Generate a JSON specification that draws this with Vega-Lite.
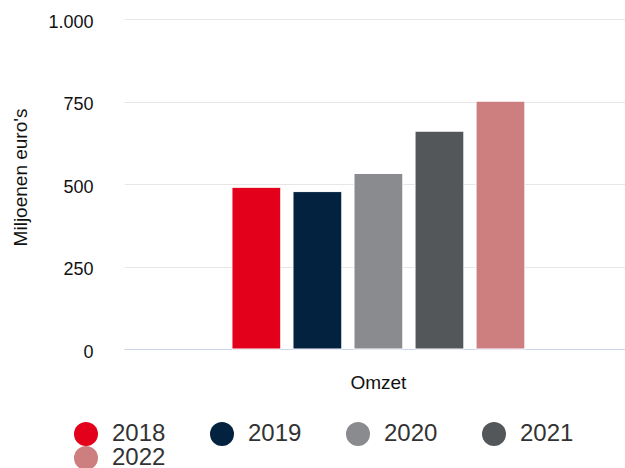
{
  "$schema": "https://vega.github.io/schema/vega-lite/v6.json",
  "autosize": "none",
  "width": 501,
  "height": 330,
  "padding": {"left": 124, "top": 19, "right": 0, "bottom": 119},
  "background": "white",
  "config": {
    "font": "Liberation Sans",
    "view": {"stroke": null}
  },
  "data": {
    "values": [
      {"categorie": "Omzet", "jaar": "2018", "waarde": 490},
      {"categorie": "Omzet", "jaar": "2019", "waarde": 477},
      {"categorie": "Omzet", "jaar": "2020", "waarde": 532},
      {"categorie": "Omzet", "jaar": "2021", "waarde": 660},
      {"categorie": "Omzet", "jaar": "2022", "waarde": 751}
    ]
  },
  "mark": {"type": "bar", "stroke": "white", "strokeWidth": 1},
  "encoding": {
    "x": {
      "field": "categorie",
      "type": "nominal",
      "scale": {"paddingInner": 0, "paddingOuter": 0.321, "align": 0.52},
      "axis": {
        "title": null,
        "labelAngle": 0,
        "labelFontSize": 19,
        "labelColor": "#111111",
        "labelPadding": 24,
        "ticks": false,
        "domainColor": "#ccd6eb",
        "domainWidth": 1,
        "grid": false
      }
    },
    "xOffset": {
      "field": "jaar",
      "type": "nominal",
      "scale": {"paddingInner": 0.2, "paddingOuter": 0.1}
    },
    "y": {
      "field": "waarde",
      "type": "quantitative",
      "scale": {"domain": [0, 1000], "nice": false},
      "axis": {
        "title": "Miljoenen euro's",
        "titleFontSize": 19,
        "titleFontWeight": "normal",
        "titleColor": "#111111",
        "titleAngle": -90,
        "titleX": -104,
        "titleY": 158,
        "titleAlign": "center",
        "titleBaseline": "middle",
        "values": [0, 250, 500, 750, 1000],
        "labelExpr": "replace(format(datum.value, ','), ',', '.')",
        "labelFontSize": 18,
        "labelColor": "#111111",
        "labelPadding": 31,
        "labelOffset": 3,
        "ticks": false,
        "domain": false,
        "gridColor": "#e6e6e6",
        "gridWidth": 1
      }
    },
    "color": {
      "field": "jaar",
      "type": "nominal",
      "scale": {
        "domain": ["2018", "2019", "2020", "2021", "2022"],
        "range": ["#e2001a", "#02223f", "#8a8b8e", "#53575a", "#cd7f80"]
      },
      "legend": {
        "title": null,
        "orient": "none",
        "legendX": -50,
        "legendY": 403,
        "direction": "horizontal",
        "columns": 4,
        "symbolType": "circle",
        "symbolSize": 576,
        "symbolStrokeWidth": 0,
        "labelFontSize": 24,
        "labelColor": "#333333",
        "labelOffset": 14,
        "columnPadding": 44,
        "rowPadding": 0
      }
    }
  }
}
